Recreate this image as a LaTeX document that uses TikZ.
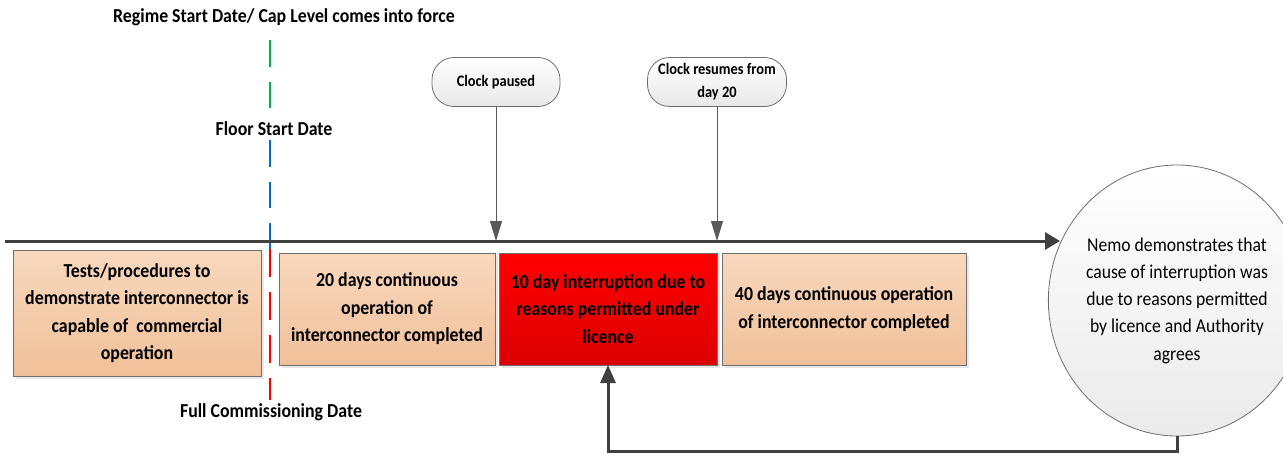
\documentclass[tikz,border=0pt]{standalone}
\usepackage{fontspec}
\setmainfont{Carlito}[FakeStretch=0.9]
\usetikzlibrary{arrows.meta,shadows,shapes.geometric}
\definecolor{peachtop}{HTML}{F8D8BE}
\definecolor{peachbot}{HTML}{F0C099}
\definecolor{redtop}{HTML}{FF0000}
\definecolor{redbot}{HTML}{DC0000}
\definecolor{linegray}{HTML}{404040}
\definecolor{edgegray}{HTML}{6E6E6E}
\definecolor{lgreen}{HTML}{00B050}
\definecolor{lblue}{HTML}{0070C0}
\definecolor{lred}{HTML}{FF0000}
\begin{document}
\begin{tikzpicture}[x=1pt,y=-1pt,
  every node/.style={inner sep=0pt, outer sep=0pt},
  boldtext/.style={font=\bfseries\fontsize{19.8}{27.5}\selectfont},
  stage/.style={boldtext, draw=edgegray, line width=0.8pt, shading=axis,
    top color=peachtop, bottom color=peachbot, align=center,
    drop shadow={shadow xshift=2.5pt, shadow yshift=-2.5pt, fill=black!18}},
  alarm/.style={stage, top color=redtop, bottom color=redbot},
  pill/.style={font=\bfseries\fontsize{16}{23}\selectfont, draw=edgegray,
    line width=0.8pt, rounded corners=22pt, shading=axis, top color=white,
    bottom color=black!9, align=center, minimum width=128pt, minimum height=49pt},
  datelabel/.style={boldtext, anchor=center},
  timeline/.style={draw=linegray, line width=3pt, -{Triangle[length=15pt,width=17pt]}},
  pointer/.style={draw=black!65, line width=1pt, -{Triangle[length=20pt,width=12pt]}},
  feedback/.style={draw=linegray, line width=3pt, -{Triangle[length=18pt,width=15pt]}},
  datedash/.style={line width=2.5pt, dash pattern=on 26.5pt off 15pt}
]
\useasboundingbox (0,0) rectangle (1283,455);

% milestone labels
\node[datelabel] (regime) at (284,17) {Regime Start Date/ Cap Level comes into force};
\node[datelabel] (floor) at (274,129) {Floor Start Date};
\node[datelabel] (fullcomm) at (271,412) {Full Commissioning Date};

% milestone dashed line, coloured by phase
\coordinate (g0) at (270,40);  \coordinate (g1) at (270,108);
\coordinate (b0) at (270,140); \coordinate (b1) at (270,249);
\coordinate (r0) at (270,249); \coordinate (r1) at (270,400);
\draw[datedash, lgreen] (g0) -- (g1);
\draw[datedash, lblue] (b0) -- (b1);
\draw[datedash, lred, dash pattern=on 28pt off 15pt] (r0) -- (r1);

% time axis
\coordinate (t0) at (5,241);
\coordinate (t1) at (1060,241);
\draw[timeline] (t0) -- (t1);

% stages
\node[stage, minimum width=248pt, minimum height=126pt] (tests) at (137,313)
  {Tests/procedures to\\demonstrate interconnector is\\capable of\ \ commercial\\operation};
\node[stage, minimum width=216pt, minimum height=112pt] (twenty) at (387,309)
  {20 days continuous\\operation of\\interconnector completed};
\node[alarm, minimum width=218pt, minimum height=112pt] (interrupt) at (608,309)
  {10 day interruption due to\\reasons permitted under\\licence};
\node[stage, minimum width=244pt, minimum height=112pt] (forty) at (844,309)
  {40 days continuous operation\\of interconnector completed};

% clock events
\node[pill] (paused) at (496,82) {Clock paused};
\node[pill, minimum width=139pt] (resumes) at (717,82) {Clock resumes from\\day 20};
\draw[pointer] (paused.south) -- (paused.south |- t0);
\draw[pointer] (resumes.south) -- (resumes.south |- t0);

% authority decision
\node[ellipse, draw=edgegray, line width=0.8pt, shading=axis, top color=white,
  bottom color=black!8, minimum width=212pt, minimum height=271pt, align=center,
  font=\fontsize{19.6}{27.3}\selectfont] (nemo) at (1177,300.5)
  {Nemo demonstrates that\\cause of interruption was\\due to reasons permitted\\by licence and Authority\\agrees};

\coordinate (ret) at (1177,451);
\draw[feedback] (nemo.south) -- (ret) -| (interrupt.south);
\end{tikzpicture}
\end{document}
